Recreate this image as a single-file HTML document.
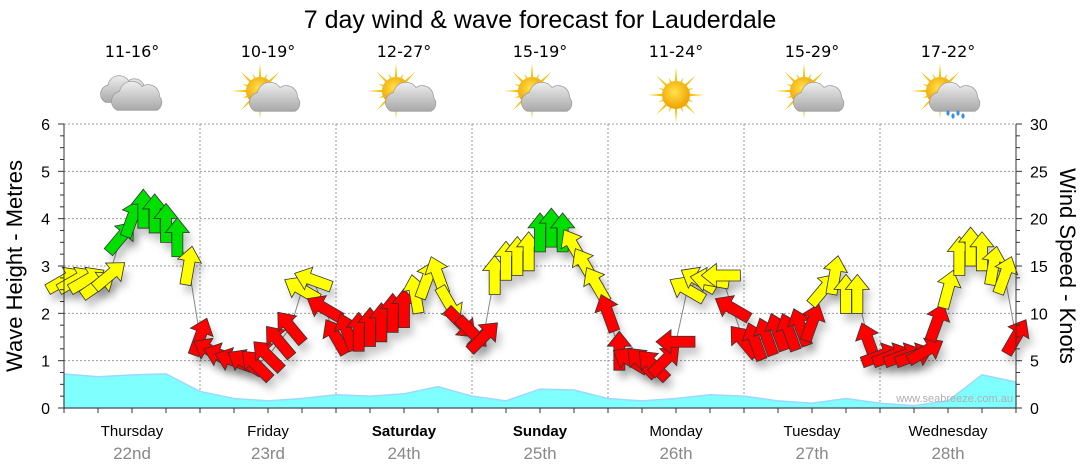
<!DOCTYPE html>
<html><head><meta charset="utf-8"><style>
body{margin:0;background:#fff;}
svg{display:block;font-family:"Liberation Sans","DejaVu Sans",sans-serif;}
</style></head><body>
<svg id="chart" width="1080" height="475" viewBox="0 0 1080 475">
<defs>
<filter id="sh" x="-50%" y="-50%" width="200%" height="200%"><feGaussianBlur stdDeviation="4"/></filter>
<radialGradient id="sun" cx="45%" cy="40%" r="60%"><stop offset="0" stop-color="#ffe34a"/><stop offset="1" stop-color="#f0a000"/></radialGradient>
<linearGradient id="cl" x1="0" y1="0" x2="0" y2="1"><stop offset="0" stop-color="#eee"/><stop offset="1" stop-color="#a8a8a8"/></linearGradient>
</defs>
<text x="540" y="28" text-anchor="middle" font-size="25" fill="#000">7 day wind &amp; wave forecast for Lauderdale</text>
<g id="grid"></g>
<g id="waves"></g>
<g id="shadows"></g>
<g id="arrows"></g>
<g id="axes"></g>
<g id="icons"></g>
<text x="1013" y="402" text-anchor="end" font-size="11" fill="#b0b0b0">www.seabreeze.com.au</text>
<text transform="translate(22,266) rotate(-90)" text-anchor="middle" font-size="22" fill="#000">Wave Height - Metres</text>
<text transform="translate(1060,266) rotate(90)" text-anchor="middle" font-size="22" fill="#000">Wind Speed - Knots</text>
</svg>
<script>
const days=["Thursday","Friday","Saturday","Sunday","Monday","Tuesday","Wednesday"];
const dates=["22nd","23rd","24th","25th","26th","27th","28th"];
const boldDays=[false,false,true,true,false,false,false];
const temps=["11-16°","10-19°","12-27°","15-19°","11-24°","15-29°","17-22°"];
const icons=["cloud","suncloud","suncloud","suncloud","sun","suncloud","rain"];
// wind every 2 hours (knots) and direction (deg, arrow heading clockwise from up)
const windKnots=[13.5,13.5,13.5,13,14,18,20,21,20.5,19.5,18,15,
7.5,6,5.5,5,4.8,4.5,5.5,7,8.5,12.5,13.5,10.5,
7.5,8,8,8.5,9,10,10.5,12,13.5,14,11,9,
8,7.5,14,15.5,16,16.5,18.5,19,18.5,17,15,13,
10,6,5,4.8,4.5,5,7,12.5,13.5,13.5,14,10.5,
7,7,7.5,8,8,8.5,9,12.5,14,12,12,7,
5.5,5.5,5.5,5.5,6,9,12.5,16,17,16.5,15,14,7.5];
const windDir=[60,60,60,55,50,40,20,0,0,0,0,10,
20,-60,-70,-70,-60,-45,-45,-40,-40,-60,-70,-60,
-30,-20,0,0,0,0,0,-10,20,-20,150,135,
135,45,0,0,0,0,0,0,0,-30,-30,-30,
-20,0,-60,-45,-45,45,-90,-60,-60,-80,-90,-60,
-40,-20,-20,-20,-20,-20,20,40,10,0,0,-20,
70,70,70,70,60,20,15,0,0,0,10,20,30];
// wave height every 6 hours (metres)
const waveM=[0.72,0.66,0.7,0.72,0.35,0.2,0.15,0.2,0.28,0.25,0.3,0.45,0.25,0.15,0.4,0.38,0.2,0.15,0.2,0.28,0.25,0.15,0.1,0.2,0.1,0.05,0.15,0.7,0.55];
const leftTicks=[0,1,2,3,4,5,6];
const rightTicks=[0,5,10,15,20,25,30];

const NS="http://www.w3.org/2000/svg";
const X0=64,X1=1016,Y0=408,Y6=124;
const hoursTotal=168;
const xH=h=>X0+(X1-X0)*h/hoursTotal;
const yM=m=>Y0-(Y0-Y6)*m/6;
const yK=k=>Y0-(Y0-Y6)*k/30;
function mk(tag,attrs,parent){const e=document.createElementNS(NS,tag);for(const k in attrs)e.setAttribute(k,attrs[k]);parent.appendChild(e);return e;}
const grid=document.getElementById('grid'),axes=document.getElementById('axes');
for(const t of leftTicks){
  if(t>0){const l=mk('line',{x1:X0,x2:X1,y1:yM(t),y2:yM(t),stroke:'#999','stroke-dasharray':'2,2','stroke-width':1},grid);
  
  }
  const tx=mk('text',{x:50,y:yM(t)+6,'text-anchor':'end','font-size':16,fill:'#000'},axes);tx.textContent=t;
  
  
}
for(const t of rightTicks){
  const tx=mk('text',{x:1030,y:yK(t)+6,'font-size':16,fill:'#000'},axes);tx.textContent=t;
  
  
}
for(let v=0;v<=6.001;v+=0.25){const y=yM(v);mk('line',{x1:X0-(v%1===0?6:4),x2:X0,y1:y,y2:y,stroke:'#333'},axes);mk('line',{x1:X1,x2:X1+(v%1===0?6:4),y1:y,y2:y,stroke:'#333'},axes);}
mk('line',{x1:X0,x2:X0,y1:Y6,y2:Y0,stroke:'#333'},axes);
mk('line',{x1:X1,x2:X1,y1:Y6,y2:Y0,stroke:'#333'},axes);
mk('line',{x1:X0,x2:X1,y1:Y0,y2:Y0,stroke:'#333'},axes);
for(let h=0;h<=168;h+=6){mk('line',{x1:xH(h),x2:xH(h),y1:Y0,y2:Y0+5,stroke:'#333'},axes);}
days.forEach((d,i)=>{
  const cx=xH(i*24+12);
  if(i>0){const l=mk('line',{x1:xH(i*24),x2:xH(i*24),y1:Y6,y2:Y0,stroke:'#999','stroke-dasharray':'2,2'},grid);
  
  }
  const t=mk('text',{x:cx,y:436,'text-anchor':'middle','font-size':15,fill:'#000','font-weight':boldDays[i]?'bold':'normal'},axes);t.textContent=d;
  
  
  const t2=mk('text',{x:cx,y:459,'text-anchor':'middle','font-size':17,fill:'#888'},axes);t2.textContent=dates[i];
  
  
  const t3=mk('text',{x:cx,y:57,'text-anchor':'middle','font-size':16,fill:'#000','font-family':'"DejaVu Sans",sans-serif'},document.getElementById('icons'));t3.textContent=temps[i];
  
  
  drawIcon(icons[i],cx,95);
});
function cloud(g,x,y,s){
  mk('path',{d:`M${x-16*s},${y+9*s} a${8*s},${8*s} 0 0 1 ${2*s},${-15*s} a${10*s},${10*s} 0 0 1 ${18*s},${-4*s} a${9*s},${9*s} 0 0 1 ${14*s},${8*s} a${7*s},${7*s} 0 0 1 ${-2*s},${11*s} z`,fill:'url(#cl)',stroke:'#999','stroke-width':0.7},g);
}
function sunDraw(g,x,y,s){
  for(let a=0;a<360;a+=22.5){const r=a*Math.PI/180;const L=((a/22.5)%2?19:28)*s;
    mk('polygon',{points:`${x+Math.sin(r)*L},${y-Math.cos(r)*L} ${x+Math.sin(r+0.12)*11*s},${y-Math.cos(r+0.12)*11*s} ${x+Math.sin(r-0.12)*11*s},${y-Math.cos(r-0.12)*11*s}`,fill:'#f5c000'},g);}
  mk('circle',{cx:x,cy:y,r:14*s,fill:'url(#sun)'},g);
}
function drawIcon(type,x,y){
  const g=mk('g',{},document.getElementById('icons'));
  
  
  if(type==='cloud'){cloud(g,x-8,y-3,1.15);cloud(g,x+5,y+4,1.25);}
  else if(type==='sun'){sunDraw(g,x,y,1);}
  else{sunDraw(g,x-8,y-4,1);cloud(g,x+7,y+5,1.25);
    if(type==='rain'){for(let k=0;k<4;k++)mk('ellipse',{cx:x+k*5,cy:y+18+(k%2)*3,rx:1.6,ry:2.6,fill:'#3a8fe0'},g);}}
}
// waves
let d=`M${X0},${Y0}`;
waveM.forEach((v,i)=>{d+=` L${xH(i*6)},${yM(v)}`;});
d+=` L${X1},${Y0} Z`;
const wp=mk('path',{d,fill:'#80ffff',stroke:'#9cd8ff','stroke-width':1.5},document.getElementById('waves'));


// wind line
let ld='';windKnots.forEach((k,i)=>{ld+=(i?' L':'M')+xH(i*2)+','+yK(k);});
mk('path',{d:ld,fill:'none',stroke:'#888','stroke-width':1},document.getElementById('shadows'));
const AP="0,-20 12,-5 5.5,-5 5.5,19 -5.5,19 -5.5,-5 -12,-5";
windKnots.forEach((k,i)=>{
  const x=xH(i*2),y=yK(k);
  mk('polygon',{points:AP,fill:'#000','fill-opacity':0.22,filter:'url(#sh)',transform:`translate(${x+4},${y+8}) rotate(${windDir[i]})`},document.getElementById('shadows'));
  const col=k>=18?'#00e000':(k>=11?'#ffff00':'#ff0000');
  const a=mk('polygon',{points:AP,fill:col,stroke:'#333','stroke-width':0.8,transform:`translate(${x},${y}) rotate(${windDir[i]})`},document.getElementById('arrows'));
  
  
});
</script>
</body></html>
